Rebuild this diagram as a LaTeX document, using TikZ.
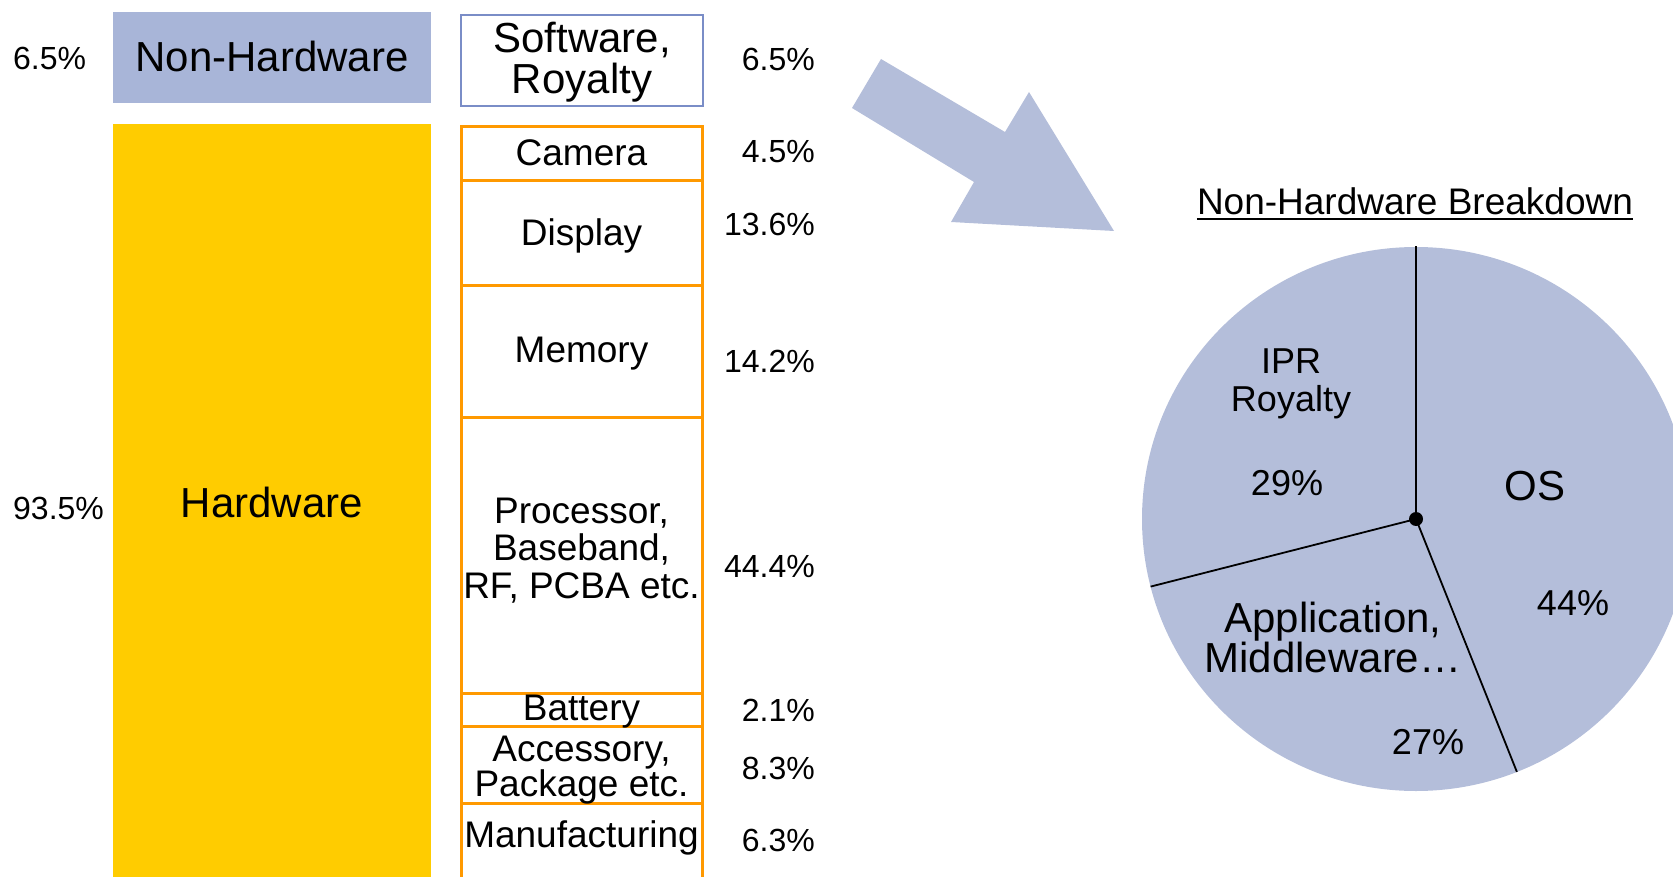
\documentclass[tikz,border=0pt]{standalone}
\usepackage{fontspec}
\setmainfont{Liberation Sans}
\definecolor{nhblue}{HTML}{A8B5D8}
\definecolor{pieblue}{HTML}{B4BEDA}
\definecolor{swborder}{HTML}{7A8DC7}
\definecolor{hwyellow}{HTML}{FFCC00}
\definecolor{hworange}{HTML}{FF9900}
\newcommand\fsz[2]{\fontsize{#1}{#2}\selectfont}
\begin{document}
\begin{tikzpicture}[x=1pt,y=-1pt,
  txt/.style={inner sep=0pt, align=center},
  big/.style={txt, font=\fsz{42}{41}},
  mid/.style={txt, font=\fsz{37}{37.5}},
  pct/.style={inner sep=0pt, font=\fsz{32}{36}},
  pctr/.style={pct, anchor=east},
  obox/.style={draw=hworange, line width=3pt, fill=white, minimum width=241pt, inner sep=0pt},
  pieline/.style={line width=1.8pt, black}
]
\useasboundingbox (0,0) rectangle (1673,877);

% left column
\node[fill=nhblue, minimum width=318pt, minimum height=91pt, inner sep=0pt] (nhbox) at (272,57.5) {};
\node[big] (nhtxt) at (272,56.7) {Non-Hardware};
\node[fill=hwyellow, minimum width=318pt, minimum height=753pt, inner sep=0pt] (hwbox) at (272,500.5) {};
\node[big] (hwtxt) at (272,502) {Hardware};
\node[pct, anchor=west] (pnh) at (13,58.3) {6.5\%};
\node[pct, anchor=west] (phw) at (13,508) {93.5\%};

% right column boxes
\node[draw=swborder, line width=2pt, fill=white, minimum width=242pt, minimum height=91pt, inner sep=0pt] (swbox) at (582,60.5) {};
\node[big] (swtxt) at (582,61.7) {Software,\\Royalty};

\node[obox, minimum height=54pt] (cam) at (581.5,154) {};
\node[obox, minimum height=105pt] (disp) at (581.5,233.5) {};
\node[obox, minimum height=131pt] (mem) at (581.5,351.5) {};
\node[obox, minimum height=276pt] (proc) at (581.5,555) {};
\node[obox, minimum height=33pt] (batt) at (581.5,709.5) {};
\node[obox, minimum height=77pt] (acc) at (581.5,764.5) {};
\node[obox, minimum height=80pt] (man) at (581.5,843) {};

\node[mid] (camtxt) at (581.5,153) {Camera};
\node[mid] (disptxt) at (581.5,236) {Display};
\node[mid] (memtxt) at (581.5,354) {Memory};
\node[mid] (proctxt) at (581.5,550.5) {Processor,\\Baseband,\\RF, PCBA etc.};
\node[mid] (batttxt) at (581.5,712) {Battery};
\node[mid, font=\fsz{37}{35}] (acctxt) at (581.5,770) {Accessory,\\Package etc.};
\node[mid] (mantxt) at (581.5,838) {Manufacturing};

% right percentages
\node[pctr] (psw) at (815,59.5) {6.5\%};
\node[pctr] (pcam) at (815,152) {4.5\%};
\node[pctr] (pdisp) at (815,224) {13.6\%};
\node[pctr] (pmem) at (815,361) {14.2\%};
\node[pctr] (pproc) at (815,566) {44.4\%};
\node[pctr] (pbatt) at (815,710.5) {2.1\%};
\node[pctr] (pacc) at (815,768.7) {8.3\%};
\node[pctr] (pman) at (815,840) {6.3\%};

% big arrow
\fill[pieblue] (881,59) -- (1005,132) -- (1029,92) -- (1114,231) -- (951,222) -- (974,182) -- (852,108) -- cycle;

% title
\node[txt, font=\fsz{37}{40}, anchor=base] (title) at (1415,215) {Non-Hardware Breakdown};
\draw[line width=2pt] ([yshift=-4.5pt]title.base west) -- ([yshift=-4.5pt]title.base east);

% pie
\coordinate (pc) at (1416,519);
\fill[pieblue] (pc) ellipse [x radius=274, y radius=272];
\draw[pieline] (pc) -- +(0,-273);
\draw[pieline] (pc) -- +(-265.4,67.6);
\draw[pieline] (pc) -- +(100.9,252.9);
\fill[black] (pc) circle [radius=7];

\node[txt, font=\fsz{36}{38}] (ipr) at (1291,384) {IPR\\Royalty};
\node[txt, font=\fsz{36}{40}] (p29) at (1287,483.3) {29\%};
\node[txt, font=\fsz{42}{46}] (os) at (1535,485.8) {OS};
\node[txt, font=\fsz{36}{40}] (p44) at (1573,603.3) {44\%};
\node[txt, font=\fsz{42}{40}] (app) at (1333,637.5) {Application,\\Middleware\ldots};
\node[txt, font=\fsz{36}{40}] (p27) at (1428,742.5) {27\%};
\end{tikzpicture}
\end{document}
